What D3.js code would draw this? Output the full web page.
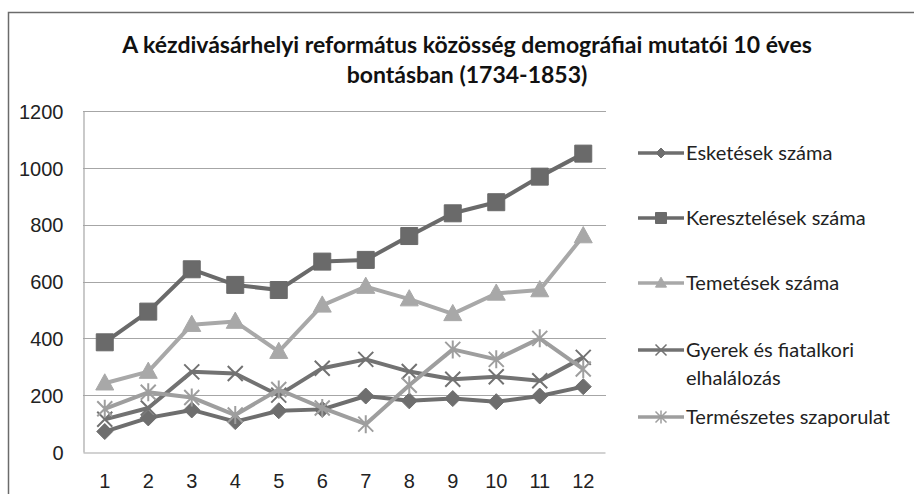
<!DOCTYPE html>
<html>
<head>
<meta charset="utf-8">
<script src="https://cdn.jsdelivr.net/npm/d3@7"></script>
<style>
  body { margin: 0; background: #fff; }
  svg { display: block; font-family: Lato, "Liberation Sans", sans-serif; }
  .tick-label { font-size: 20px; fill: #222; }
  .legend-text { font-size: 20px; fill: #222; }
  .title { font-size: 23px; font-weight: bold; fill: #111; }
</style>
</head>
<body>
<svg id="chart" width="914" height="494"></svg>
<script>
// Data
const categories = ["1", "2", "3", "4", "5", "6", "7", "8", "9", "10", "11", "12"];
const esketesek = [72, 120, 148, 107, 145, 150, 197, 180, 188, 177, 197, 230];
const keresztelesek = [386, 494, 643, 588, 570, 670, 676, 760, 840, 879, 969, 1050];
const temetesek = [242, 283, 448, 459, 353, 516, 582, 538, 486, 558, 570, 760];
const gyerek = [115, 155, 282, 276, 200, 295, 326, 283, 256, 265, 251, 333];
const szaporulat = [152, 210, 192, 130, 220, 155, 98, 235, 361, 326, 400, 292];
const yTicks = [0, 200, 400, 600, 800, 1000, 1200];

const series = [
    { name: ["Esketések száma"], values: esketesek, color: "#6e6e6e", marker: "diamond" },
    { name: ["Keresztelések száma"], values: keresztelesek, color: "#6a6a6a", marker: "square" },
    { name: ["Temetések száma"], values: temetesek, color: "#a8a8a8", marker: "triangle" },
    { name: ["Gyerek és fiatalkori", "elhalálozás"], values: gyerek, color: "#727272", marker: "x" },
    { name: ["Természetes szaporulat"], values: szaporulat, color: "#9e9e9e", marker: "star" }
];

const PLOT = { left: 83, right: 605, top: 111, bottom: 452 };

const svg = d3.select("#chart");

// Outer chart border (extends past the window on right and bottom)
svg.append("path")
    .attr("d", "M8.5,500 V12.5 H920")
    .attr("fill", "none")
    .attr("stroke", "#6b6b6b")
    .attr("stroke-width", 1.5);

// Title
const title = svg.append("text")
    .attr("class", "title")
    .attr("text-anchor", "middle");
title.append("tspan").attr("x", 467).attr("y", 53)
    .text("A kézdivásárhelyi református közösség demográfiai mutatói 10 éves");
title.append("tspan").attr("x", 467).attr("y", 83)
    .text("bontásban (1734-1853)");

const x = d3.scaleBand().domain(categories).range([PLOT.left, PLOT.right]);
const y = d3.scaleLinear().domain([0, 1200]).range([PLOT.bottom, PLOT.top]);
const cx = d => x(d) + x.bandwidth() / 2;

// Gridlines
svg.append("g")
    .selectAll("line")
    .data(yTicks.filter(t => t > 0))
    .join("line")
    .attr("x1", PLOT.left).attr("x2", PLOT.right + 1)
    .attr("y1", d => Math.round(y(d)) + 0.5).attr("y2", d => Math.round(y(d)) + 0.5)
    .attr("stroke", "#a6a6a6")
    .attr("stroke-width", 1);

// Axes
const yAxis = svg.append("g")
    .attr("transform", `translate(${PLOT.left + 0.5},0)`)
    .call(d3.axisLeft(y).tickValues(yTicks).tickFormat(d3.format("d")).tickSize(0).tickPadding(20));
const xAxis = svg.append("g")
    .attr("transform", `translate(0,${PLOT.bottom + 0.5})`)
    .call(d3.axisBottom(x).tickSize(0).tickPadding(21));
[yAxis, xAxis].forEach(a => {
    a.select(".domain").attr("stroke", "#a6a6a6").attr("stroke-width", 1.2);
    a.selectAll("text").attr("class", "tick-label").attr("font-family", null).attr("font-size", null);
});
yAxis.selectAll("text").attr("dy", "0.36em");
xAxis.selectAll("text").attr("dy", "0.71em");

// Marker path generator
function markerPath(type, s) {
    const h = s / 2;
    switch (type) {
        case "diamond": return `M0,${-h}L${h},0L0,${h}L${-h},0Z`;
        case "square": return `M${-h},${-h}H${h}V${h}H${-h}Z`;
        case "triangle": return `M0,${-h * 1.05}L${h},${h * 0.75}L${-h},${h * 0.75}Z`;
        case "x": return `M${-h},${-h}L${h},${h}M${-h},${h}L${h},${-h}`;
        case "star": return `M${-h},${-h}L${h},${h}M${-h},${h}L${h},${-h}M0,${-h * 1.2}V${h * 1.2}`;
    }
}

const line = d3.line()
    .x((d, i) => cx(categories[i]))
    .y(d => y(d));

const MARKER_SIZE = { diamond: 16, square: 17, triangle: 18, x: 15, star: 15 };

series.forEach(s => {
    const g = svg.append("g").attr("class", "series");
    g.append("path")
        .attr("d", line(s.values))
        .attr("fill", "none")
        .attr("stroke", s.color)
        .attr("stroke-width", 4)
        .attr("stroke-linejoin", "round");
    const filled = s.marker === "diamond" || s.marker === "square" || s.marker === "triangle";
    g.selectAll("path.marker")
        .data(s.values)
        .join("path")
        .attr("class", "marker")
        .attr("transform", (d, i) => `translate(${cx(categories[i])},${y(d)})`)
        .attr("d", markerPath(s.marker, MARKER_SIZE[s.marker]))
        .attr("fill", filled ? s.color : "none")
        .attr("stroke", s.color)
        .attr("stroke-width", filled ? 1 : 2);
});

// Legend
const legendY = [153, 218, 283, 350, 417];
series.forEach((s, i) => {
    const g = svg.append("g").attr("transform", `translate(638,${legendY[i]})`);
    g.append("line")
        .attr("x1", 0).attr("x2", 46)
        .attr("stroke", s.color)
        .attr("stroke-width", 3.5);
    const filled = s.marker === "diamond" || s.marker === "square" || s.marker === "triangle";
    g.append("path")
        .attr("transform", "translate(23,0)")
        .attr("d", markerPath(s.marker, s.marker === "diamond" ? 10 : 11))
        .attr("fill", filled ? s.color : "none")
        .attr("stroke", s.color)
        .attr("stroke-width", filled ? 1 : 1.5);
    const t = g.append("text")
        .attr("class", "legend-text")
        .attr("x", 48)
        .attr("y", 0);
    s.name.forEach((n, k) => {
        t.append("tspan").attr("x", 48).attr("dy", k === 0 ? "0.35em" : "1.4em").text(n);
    });
});
</script>
</body>
</html>
